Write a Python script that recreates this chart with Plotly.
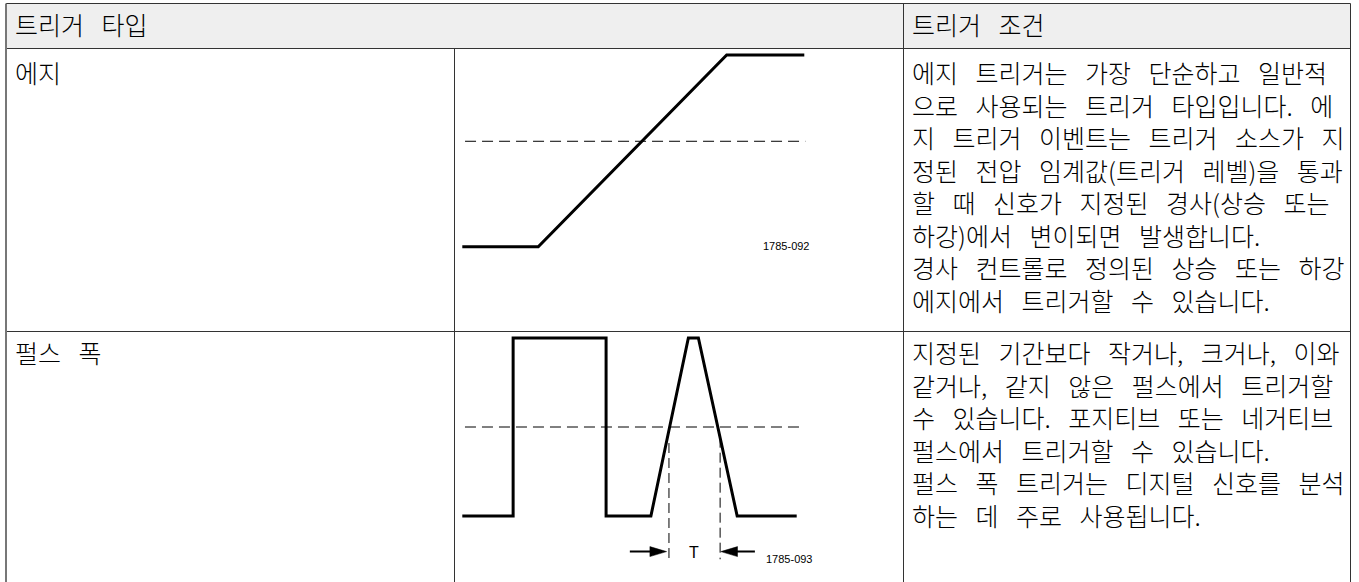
import plotly.graph_objects as go

W, H = 1359, 582

# ---------------- data ----------------
header_labels = ["트리거 타입", "트리거 조건"]
row_types = ["에지", "펄스 폭"]
row_conditions = [
    ["에지 트리거는 가장 단순하고 일반적",
     "으로 사용되는 트리거 타입입니다. 에",
     "지 트리거 이벤트는 트리거 소스가 지",
     "정된 전압 임계값(트리거 레벨)을 통과",
     "할 때 신호가 지정된 경사(상승 또는",
     "하강)에서 변이되면 발생합니다.",
     "경사 컨트롤로 정의된 상승 또는 하강",
     "에지에서 트리거할 수 있습니다."],
    ["지정된 기간보다 작거나, 크거나, 이와",
     "같거나, 같지 않은 펄스에서 트리거할",
     "수 있습니다. 포지티브 또는 네거티브",
     "펄스에서 트리거할 수 있습니다.",
     "펄스 폭 트리거는 디지털 신호를 분석",
     "하는 데 주로 사용됩니다."],
]
figure_ids = ["1785-092", "1785-093"]

# edge waveform (time units 0..10, level 0..1)
edge_t = [0, 2.22, 7.73, 10]
edge_v = [0, 0, 1, 1]
edge_threshold = 0.55
edge_threshold_span = [0.08, 10.03]
edge_id_pos = [9.49, 0.005]

# pulse waveform (time units 0..100, level 0..1)
pulse_t = [0, 15.2, 15.2, 43.0, 43.0, 56.4, 67.6, 70.6, 82.2, 100]
pulse_v = [0, 0, 1, 1, 0, 0, 1, 1, 0, 0]
pulse_threshold = 0.5
pulse_threshold_span = [0.8, 101.9]
width_marker_t = [61.8, 77.1]
width_marker_top = [0.41, 0.44]
width_marker_bottom = -0.243
arrow_tails = [50.1, 87.5]
arrow_tips = [61.1, 77.3]
arrow_level = -0.20
width_label = "T"
width_label_pos = [69.4, -0.206]
pulse_id_pos = [97.7, -0.243]

# ---------------- layout helpers ----------------
def px(x):
    return x / W


def py(y):
    return 1 - y / H


def dom(d0, d1, p0, p1, r0, r1):
    s = (p1 - p0) / (d1 - d0)
    return p0 + (r0 - d0) * s, p0 + (r1 - d0) * s


FONT = "Noto Sans CJK KR"
TXT = "#000000"
SP = "\u2002\u2009"
FS = 25
LINE_H = 1.3 * FS     # plotly line spacing is 1.3em

fig = go.Figure()

# edge diagram axes (xaxis/yaxis)
ex_rng = [-0.5, 10.5]
ey_rng = [-0.1, 1.1]
ex0, ex1 = dom(0, 10, 462.3, 804.3, *ex_rng)
ey0, ey1 = dom(0, 1, 246.7, 55.0, *ey_rng)
# pulse diagram axes (xaxis2/yaxis2)
px_rng = [-3, 108]
py_rng = [-0.35, 1.1]
px0, px1 = dom(0, 100, 462.3, 796.7, *px_rng)
py0, py1 = dom(0, 1, 516.0, 338.0, *py_rng)

black = "#000000"

fig.add_trace(go.Scatter(x=edge_t, y=edge_v, mode="lines",
                         line=dict(color=black, width=3), xaxis="x", yaxis="y",
                         hoverinfo="skip"))
fig.add_trace(go.Scatter(x=edge_threshold_span, y=[edge_threshold] * 2, mode="lines",
                         line=dict(color=black, width=1, dash="11px,6px"),
                         xaxis="x", yaxis="y", hoverinfo="skip"))

fig.add_trace(go.Scatter(x=pulse_t, y=pulse_v, mode="lines",
                         line=dict(color=black, width=3), xaxis="x2", yaxis="y2",
                         hoverinfo="skip"))
fig.add_trace(go.Scatter(x=pulse_threshold_span, y=[pulse_threshold] * 2, mode="lines",
                         line=dict(color=black, width=1, dash="11px,6px"),
                         xaxis="x2", yaxis="y2", hoverinfo="skip"))
mx, my = [], []
for t, top in zip(width_marker_t, width_marker_top):
    mx += [t, t, None]
    my += [top, width_marker_bottom, None]
fig.add_trace(go.Scatter(x=mx, y=my, mode="lines",
                         line=dict(color=black, width=1, dash="10px,5px"),
                         xaxis="x2", yaxis="y2", hoverinfo="skip"))

HEAD_LEN = 5.0
HEAD_HALF = 0.028
sx, sy, hx, hy = [], [], [], []
for tail, tip in zip(arrow_tails, arrow_tips):
    d = 1 if tip > tail else -1
    base = tip - d * HEAD_LEN
    sx += [tail, base + d * 0.5, None]
    sy += [arrow_level, arrow_level, None]
    hx += [tip, base, base, tip, None]
    hy += [arrow_level, arrow_level + HEAD_HALF, arrow_level - HEAD_HALF, arrow_level, None]
fig.add_trace(go.Scatter(x=sx, y=sy, mode="lines", line=dict(color=black, width=2),
                         xaxis="x2", yaxis="y2", hoverinfo="skip"))
fig.add_trace(go.Scatter(x=hx, y=hy, mode="lines", fill="toself", fillcolor=black,
                         line=dict(color=black, width=0.5),
                         xaxis="x2", yaxis="y2", hoverinfo="skip"))

# ---------------- table ----------------
TOP, HB, RD = 3.5, 48.5, 331.5
LEFT, C1, C2, RIGHT = 6, 454.5, 903.5, 1350.5
BOTTOM = 582
shapes = [
    dict(type="rect", xref="paper", yref="paper", x0=px(LEFT), x1=px(RIGHT),
         y0=py(HB), y1=py(TOP), fillcolor="#efefef", line=dict(width=0), layer="below"),
]
lc = "#333333"
for y in (TOP, HB, RD):
    shapes.append(dict(type="line", xref="paper", yref="paper", x0=px(LEFT), x1=px(RIGHT),
                       y0=py(y), y1=py(y), line=dict(color=lc, width=1)))
shapes.append(dict(type="line", xref="paper", yref="paper", x0=px(LEFT), x1=px(LEFT),
                   y0=py(TOP), y1=py(BOTTOM), line=dict(color="#777777", width=2)))
for x in (C2, RIGHT):
    shapes.append(dict(type="line", xref="paper", yref="paper", x0=px(x), x1=px(x),
                       y0=py(TOP), y1=py(BOTTOM), line=dict(color=lc, width=1)))
shapes.append(dict(type="line", xref="paper", yref="paper", x0=px(C1), x1=px(C1),
                   y0=py(HB), y1=py(BOTTOM), line=dict(color=lc, width=1)))

annotations = []


def txt(x, y_first, lines, color=TXT):
    n = len(lines)
    yc = y_first + (n - 1) * LINE_H / 2
    annotations.append(dict(xref="paper", yref="paper", x=px(x), y=py(yc),
                            text="<br>".join(s.replace(" ", SP) for s in lines),
                            showarrow=False, align="left",
                            xanchor="left", yanchor="middle",
                            font=dict(family=FONT, size=FS, color=color, weight=300)))


txt(13, 24, [header_labels[0]])
txt(910, 24, [header_labels[1]])
row_starts = [72, 352]
for r in range(2):
    txt(13, row_starts[r], [row_types[r]])
    txt(910, row_starts[r], row_conditions[r])

small = dict(family="Liberation Sans Narrow, Liberation Sans, Arial", size=11, color=black)
annotations.append(dict(xref="x", yref="y", x=edge_id_pos[0], y=edge_id_pos[1],
                        text=figure_ids[0], showarrow=False, xanchor="center",
                        yanchor="middle", font=small))
annotations.append(dict(xref="x2", yref="y2", x=pulse_id_pos[0], y=pulse_id_pos[1],
                        text=figure_ids[1], showarrow=False, xanchor="center",
                        yanchor="middle", font=small))
annotations.append(dict(xref="x2", yref="y2", x=width_label_pos[0], y=width_label_pos[1],
                        text=width_label, showarrow=False, xanchor="center",
                        yanchor="middle",
                        font=dict(family="Liberation Sans, Arial", size=16, color=black)))

hidden = dict(visible=False, showgrid=False, zeroline=False, fixedrange=True)
fig.update_layout(
    width=W, height=H,
    margin=dict(l=0, r=0, t=0, b=0),
    paper_bgcolor="white", plot_bgcolor="rgba(0,0,0,0)",
    showlegend=False,
    shapes=shapes, annotations=annotations,
    xaxis=dict(domain=[px(ex0), px(ex1)], range=ex_rng, anchor="y", **hidden),
    yaxis=dict(domain=sorted([py(ey0), py(ey1)]), range=ey_rng, anchor="x", **hidden),
    xaxis2=dict(domain=[px(px0), px(px1)], range=px_rng, anchor="y2", **hidden),
    yaxis2=dict(domain=sorted([py(py0), py(py1)]), range=py_rng, anchor="x2", **hidden),
)

fig.write_html("out.html", config={"displayModeBar": False},
               post_script="document.body.style.margin='0';document.body.style.overflow='hidden';")
